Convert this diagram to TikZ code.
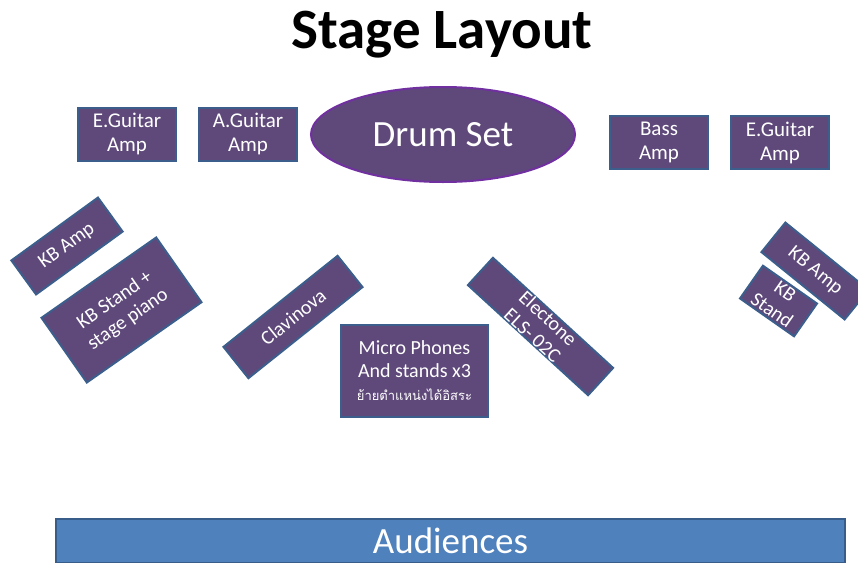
\documentclass[tikz,border=0pt]{standalone}
\usepackage{fontspec}
\setmainfont{Carlito}
\newfontfamily\thaifont[Script=Thai]{Loma}
\usetikzlibrary{positioning,shapes.geometric}

\definecolor{gearfill}{HTML}{5F497A}
\definecolor{gearline}{HTML}{3B5E8C}
\definecolor{drumline}{HTML}{7030A0}
\definecolor{crowdfill}{HTML}{4F81BD}
\definecolor{crowdline}{HTML}{385D8A}

\begin{document}
\begin{tikzpicture}[x=1pt,y=-1pt,line width=2pt]
  \tikzstyle{gear}=[draw=gearline,fill=gearfill,text=white,inner sep=0pt,align=center,font=\fontsize{20}{23}\selectfont]
  \tikzstyle{amp}=[gear,minimum width=98,minimum height=53,font=\fontsize{21}{24}\selectfont]

  \useasboundingbox (0,0) rectangle (858,562);

  \node[font=\bfseries\fontsize{57}{64}\selectfont] (title) at (442,35) {Stage Layout};

  % back line
  \node[amp] (EGL) at (127,134) {E.Guitar\\Amp};
  \node[amp] (AG) [right=21pt of EGL] {A.Guitar\\Amp};
  \node[ellipse,draw=drumline,fill=gearfill,text=white,inner sep=0pt,
        minimum width=264,minimum height=95,font=\fontsize{37}{40}\selectfont] (drum) at (443,134.5) {Drum Set};
  \node[amp] (bass) at (659,142.5) {Bass\\Amp};
  \node[amp] (EGR) [right=21pt of bass] {E.Guitar\\Amp};

  % keyboards
  \node[gear,minimum width=107,minimum height=42,rotate=36] (KBAL) at (67,246) {KB Amp};
  \node[gear,minimum width=140,minimum height=79,rotate=35] (KBSL) at (121.5,310) {KB Stand +\\stage piano};
  \node[gear,minimum width=146,minimum height=40,rotate=38.6] (clav) at (293,317) {Clavinova};
  \node[gear,minimum width=163,minimum height=37,rotate=-42.5] (elec) at (540.5,326.5) {Electone\\ELS- 02C};
  \node[gear,minimum width=107,minimum height=38,rotate=-39] (KBAR) at (815,271) {KB Amp};
  \node[gear,minimum width=66,minimum height=40,rotate=-35] (KBSR) at (778.5,301) {KB\\Stand};

  % front
  \node[gear,minimum width=147,minimum height=92] (mic) at (414.5,371)
    {Micro Phones\\And stands x3\\{\thaifont\fontsize{13}{15}\selectfont ย้ายตำแหน่งได้อิสระ}};

  \node[draw=crowdline,fill=crowdfill,text=white,inner sep=0pt,minimum width=789,minimum height=44,
        font=\fontsize{37}{40}\selectfont] (crowd) at (450.5,541) {Audiences};
\end{tikzpicture}
\end{document}
